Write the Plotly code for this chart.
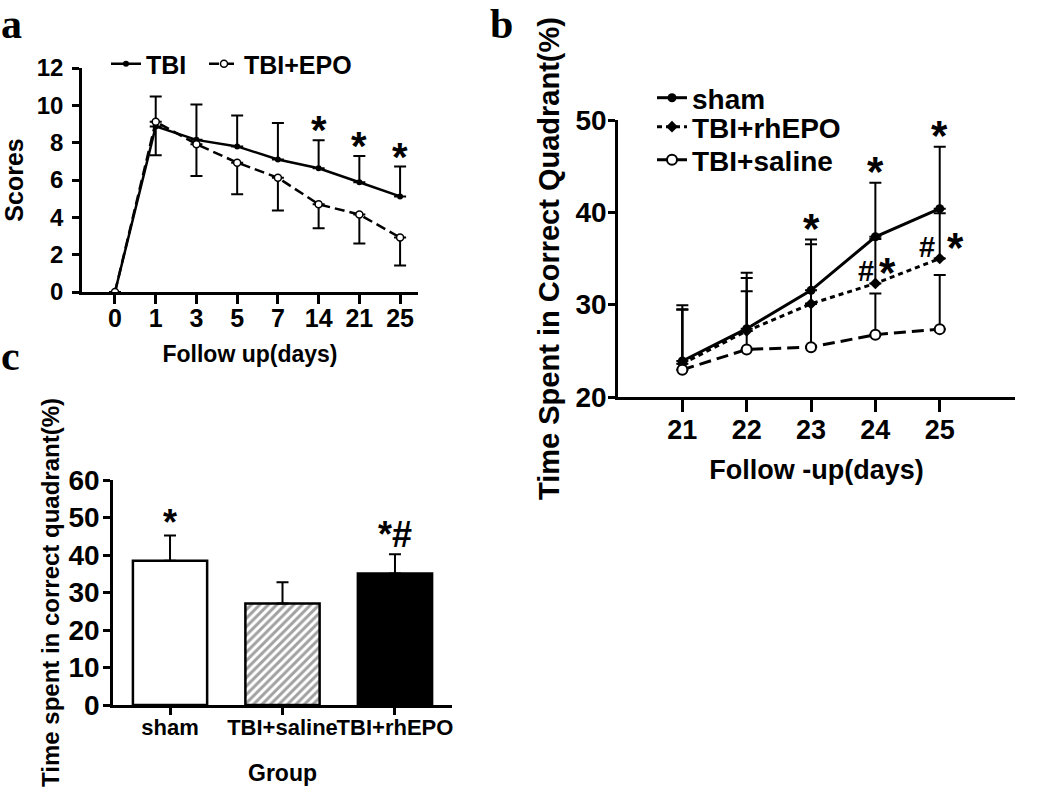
import plotly.graph_objects as go

# ---------------- data ----------------
# Panel a: neurological scores
days_a = ["0", "1", "3", "5", "7", "14", "21", "25"]
tbi_mean = [0, 8.87, 8.15, 7.8, 7.1, 6.63, 5.88, 5.12]
tbi_err = [0, 1.6, 1.9, 1.65, 1.95, 1.5, 1.4, 1.6]
epo_mean = [0, 9.12, 7.92, 6.93, 6.12, 4.7, 4.15, 2.92]
epo_err = [0, 1.8, 1.7, 1.7, 1.75, 1.28, 1.55, 1.5]
star_days_a = ["14", "21", "25"]

# Panel b: time in correct quadrant by day
days_b = [21, 22, 23, 24, 25]
sham_mean = [23.9, 27.4, 31.55, 37.35, 40.4]
sham_err = [6.05, 6.05, 5.5, 5.85, 6.7]
rhepo_mean = [23.6, 27.15, 30.1, 32.3, 35.0]
rhepo_err = [5.9, 5.75, 6.45, 4.8, 4.9]
saline_mean = [22.95, 25.15, 25.4, 26.75, 27.35]
saline_err = [6.5, 6.3, 4.7, 4.45, 5.85]
star_days_b = [23, 24, 25]
hash_days_b = [24, 25]

# Panel c: bar chart
groups_c = ["sham", "TBI+saline", "TBI+rhEPO"]
means_c = [38.5, 27.1, 35.1]
errs_c = [6.7, 5.6, 5.1]
labels_c = ["*", "", "*#"]

# ---------------- layout helpers ----------------
W, H = 1050, 793
def xd(px):
    return px / W
def yd(py):
    return 1 - py / H

FONT = "Liberation Sans, Arial, sans-serif"
SERIF = "Liberation Serif, Times New Roman, serif"

def bold(size):
    return dict(family=FONT, size=size, color="black", weight="bold")

fig = go.Figure()

# ---- Panel a ----
fig.add_trace(go.Scatter(
    x=days_a, y=tbi_mean, mode="lines+markers", name="TBI",
    line=dict(color="black", width=2.5),
    marker=dict(symbol="circle", size=6, color="black"),
    error_y=dict(type="data", symmetric=False, array=tbi_err,
                 arrayminus=[0] * len(tbi_err), color="black", thickness=2, width=6),
    xaxis="x", yaxis="y", legend="legend"))
fig.add_trace(go.Scatter(
    x=days_a, y=epo_mean, mode="lines+markers", name="TBI+EPO",
    line=dict(color="black", width=2.5, dash="10px,5px"),
    marker=dict(symbol="circle", size=7, color="white", line=dict(color="black", width=1.5)),
    error_y=dict(type="data", symmetric=False, array=[0] * len(epo_err),
                 arrayminus=epo_err, color="black", thickness=2, width=6),
    xaxis="x", yaxis="y", legend="legend5"))

# ---- Panel b ----
fig.add_trace(go.Scatter(
    x=days_b, y=sham_mean, mode="lines+markers", name="sham",
    line=dict(color="black", width=3),
    marker=dict(symbol="circle", size=9, color="black"),
    error_y=dict(type="data", symmetric=False, array=sham_err,
                 arrayminus=[0] * len(sham_err), color="black", thickness=2, width=6),
    xaxis="x2", yaxis="y2", legend="legend2"))
fig.add_trace(go.Scatter(
    x=days_b, y=rhepo_mean, mode="lines+markers", name="TBI+rhEPO",
    line=dict(color="black", width=3, dash="5px,4px"),
    marker=dict(symbol="diamond", size=9, color="black"),
    error_y=dict(type="data", symmetric=False, array=rhepo_err,
                 arrayminus=[0] * len(rhepo_err), color="black", thickness=2, width=6),
    xaxis="x2", yaxis="y2", legend="legend3"))
fig.add_trace(go.Scatter(
    x=days_b, y=saline_mean, mode="lines+markers", name="TBI+saline",
    line=dict(color="black", width=3, dash="12px,6px"),
    marker=dict(symbol="circle", size=10, color="white", line=dict(color="black", width=2)),
    error_y=dict(type="data", symmetric=False, array=saline_err,
                 arrayminus=[0] * len(saline_err), color="black", thickness=2, width=6),
    xaxis="x2", yaxis="y2", legend="legend4"))

# ---- Panel c ----
fig.add_trace(go.Bar(
    x=groups_c, y=means_c, width=0.66, showlegend=False,
    marker=dict(color=["white", "white", "black"],
                line=dict(color="black", width=2.5),
                pattern=dict(shape=["", "/", ""], fgcolor="black", size=6, solidity=0.5)),
    error_y=dict(type="data", symmetric=False, array=errs_c,
                 arrayminus=[0] * len(errs_c), color="black", thickness=2, width=6),
    xaxis="x3", yaxis="y3"))

# ---------------- annotations ----------------
ann = []
# stars panel a (category axis: position = category index)
for d in star_days_a:
    i = days_a.index(d)
    ann.append(dict(x=i, y=tbi_mean[i] + tbi_err[i], xref="x", yref="y", text="*",
                    showarrow=False, yanchor="bottom", yshift=-14, font=bold(40)))
# stars panel b
for d in star_days_b:
    i = days_b.index(d)
    ann.append(dict(x=d, y=sham_mean[i] + sham_err[i], xref="x2", yref="y2", text="*",
                    showarrow=False, yanchor="bottom", yshift=-14, font=bold(42)))
for d, hs, ss in zip(hash_days_b, [1, -3], [2, 5]):
    i = days_b.index(d)
    ann.append(dict(x=d, y=rhepo_mean[i], xref="x2", yref="y2", text="#",
                    showarrow=False, xanchor="right", yanchor="middle", xshift=hs, yshift=12,
                    font=bold(29)))
    ann.append(dict(x=d, y=rhepo_mean[i], xref="x2", yref="y2", text="*",
                    showarrow=False, xanchor="left", yanchor="middle", xshift=ss, yshift=11,
                    font=bold(42)))
# stars panel c
for g, m, e, t in zip(groups_c, means_c, errs_c, labels_c):
    if t:
        ann.append(dict(x=g, y=m + e, xref="x3", yref="y3", text=t,
                        showarrow=False, yanchor="bottom",
                        yshift=-9 if t == "*" else -3, font=bold(36)))
# panel letters
for t, px, py in [("a", 0, 0), ("b", 489, 0), ("c", 0, 332)]:
    ann.append(dict(x=xd(px), y=yd(py), xref="paper", yref="paper", text=t,
                    showarrow=False, xanchor="left", yanchor="top", borderpad=0,
                    font=dict(family=SERIF, size=42, color="black", weight="bold")))

def axis_style(tsize, ticklen=7, standoff=0):
    return dict(showline=True, linecolor="black", linewidth=2.5, ticks="outside",
                ticklen=ticklen, tickwidth=2.5, tickcolor="black", showgrid=False,
                zeroline=False, automargin=False, ticklabelstandoff=standoff,
                tickangle=0, tickfont=bold(tsize))

def legend_at(px, py, size, **kw):
    d = dict(x=xd(px), y=yd(py), xanchor="left", yanchor="top",
             bgcolor="rgba(0,0,0,0)", itemwidth=30, font=bold(size))
    d.update(kw)
    return d

fig.update_layout(
    width=W, height=H, autosize=False,
    margin=dict(l=0, r=0, t=0, b=0),
    paper_bgcolor="white", plot_bgcolor="white",
    font=dict(family=FONT, color="black"),
    annotations=ann,
    xaxis=dict(domain=[xd(82), xd(418)], anchor="y", type="category",
               range=[-0.81, 7.44], **axis_style(25, ticklen=9, standoff=-7),
               title=dict(text="Follow up(days)", standoff=16, font=bold(23))),
    yaxis=dict(domain=[yd(292), yd(68)], anchor="x", range=[0, 12], dtick=2,
               **axis_style(24, standoff=4),
               title=dict(text="Scores", standoff=10, font=bold(25))),
    xaxis2=dict(domain=[xd(618), xd(1015)], anchor="y2", range=[20, 26.17],
                tickvals=days_b, **axis_style(27, ticklen=12, standoff=-5),
                title=dict(text="Follow -up(days)", standoff=16, font=bold(27))),
    yaxis2=dict(domain=[yd(397), yd(120)], anchor="x2", range=[20, 50], dtick=10,
                **axis_style(28, standoff=-4),
                title=dict(text="Time Spent in Correct Quadrant(%)", standoff=8,
                           font=bold(29))),
    xaxis3=dict(domain=[xd(113), xd(452)], anchor="y3", type="category",
                range=[-0.507, 2.507], **axis_style(22, standoff=-6),
                title=dict(text="Group", standoff=26, font=bold(23))),
    yaxis3=dict(domain=[yd(705), yd(480)], anchor="x3", range=[0, 60], dtick=10,
                **axis_style(28, standoff=-2),
                title=dict(text="Time spent in correct quadrant(%)", standoff=3,
                           font=bold(24))),
    legend=legend_at(106, 41, 25),
    legend5=legend_at(204, 41, 25),
    legend2=legend_at(652, 73, 28),
    legend3=legend_at(652, 102, 28),
    legend4=legend_at(652, 135, 28),
)

fig.write_html("out.html", config={"displayModeBar": False},
               post_script="document.body.style.margin='0';")
